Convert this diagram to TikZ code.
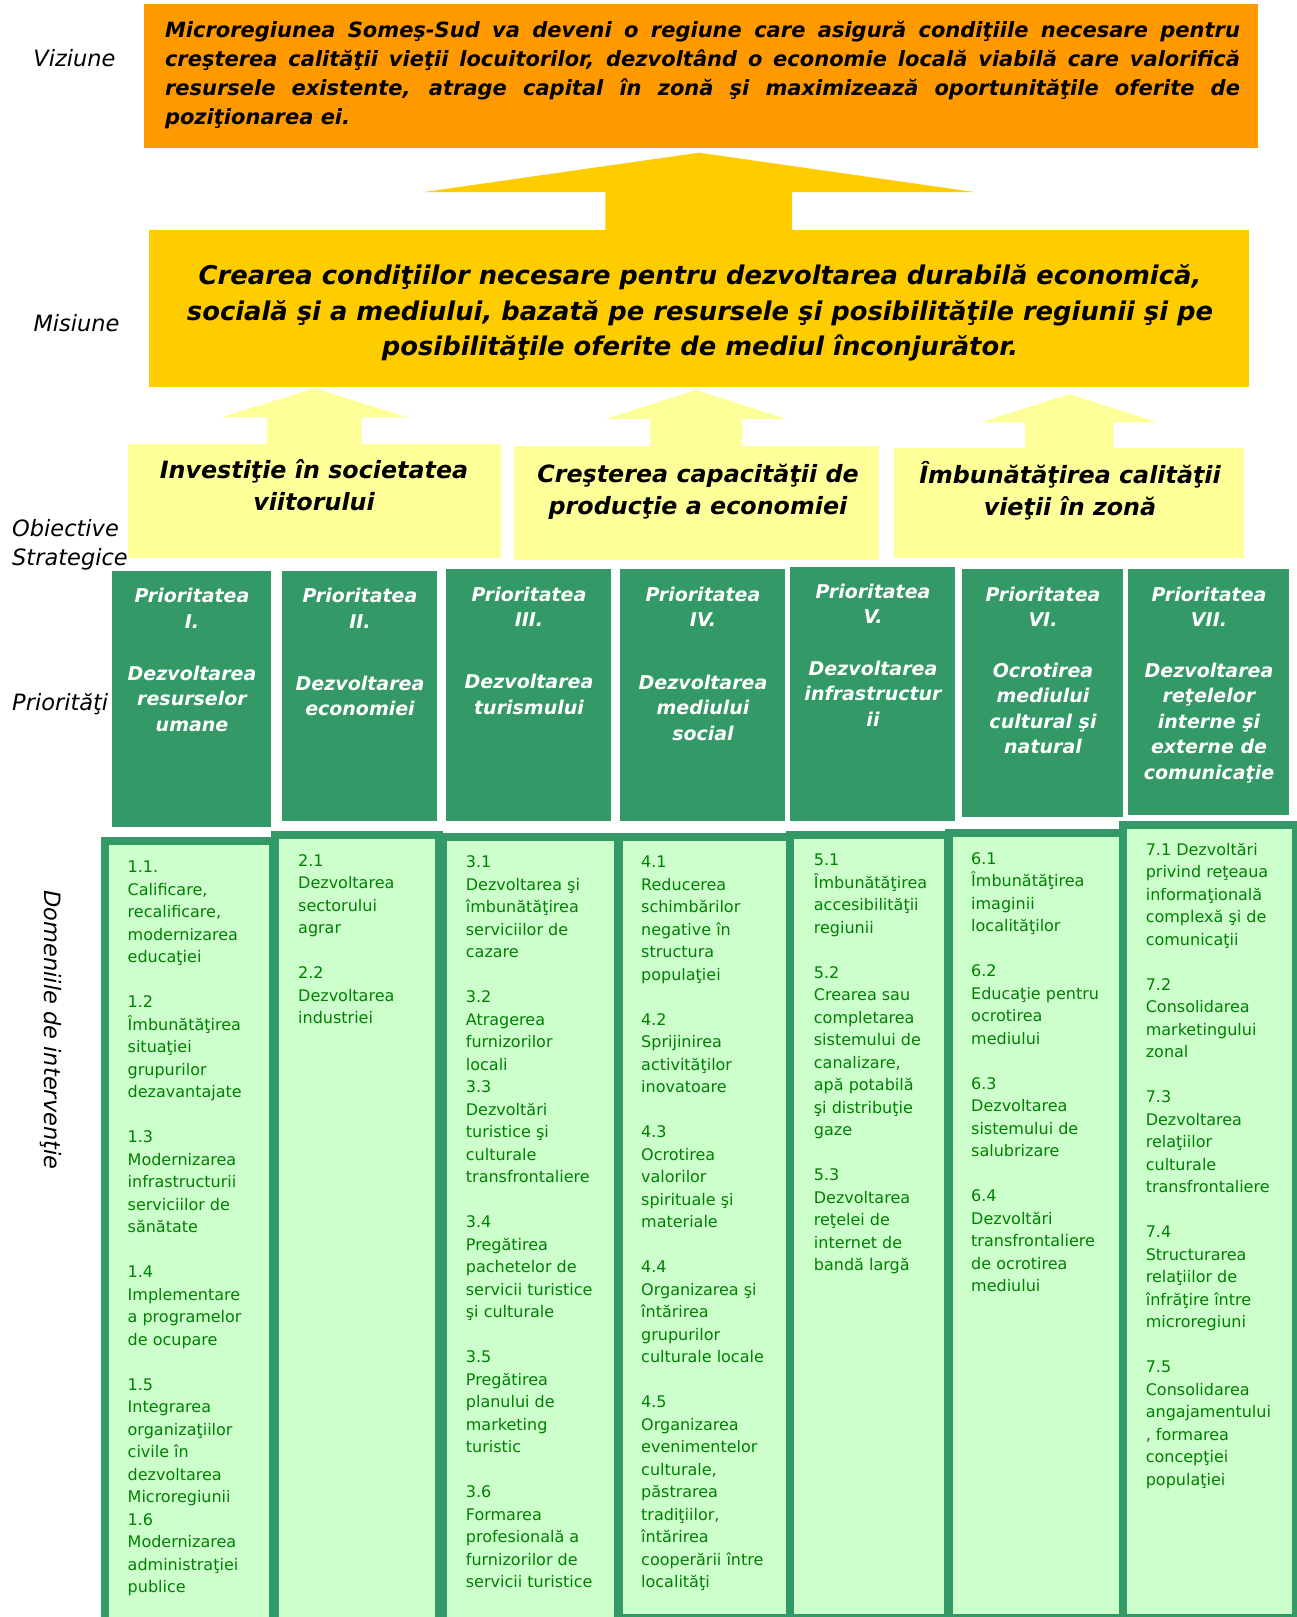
\documentclass[tikz,border=0pt]{standalone}
\usepackage{fontspec}
\setmainfont{DejaVu Sans}
\usetikzlibrary{shapes,arrows,fit,backgrounds}
\definecolor{visionorange}{HTML}{FF9900}
\definecolor{missiongold}{HTML}{FFCC00}
\definecolor{goalyellow}{HTML}{FFFF99}
\definecolor{prioritygreen}{HTML}{339966}
\definecolor{fieldfill}{HTML}{CCFFCC}
\definecolor{fieldtext}{HTML}{008000}

\begin{document}
\begin{tikzpicture}[
    x=1pt,y=-1pt,
	box/.style={rectangle, inner sep=0, outer sep=0},
	goal/.style={box, fill=goalyellow},
	prio/.style={box, fill=prioritygreen},
	field/.style={box, draw=prioritygreen, fill=fieldfill, line width=8pt},
	side/.style={font=\fontsize{22.5}{29}\selectfont\itshape, inner sep=0},
	goaltext/.style={font=\fontsize{23.8}{32}\selectfont\bfseries\itshape, align=center, inner sep=0},
	head/.style={font=\fontsize{19}{25.5}\selectfont\bfseries\itshape, text=white, align=center, inner sep=0},
	item/.style={anchor=north west, font=\fontsize{16}{22.5}\selectfont, text=fieldtext, align=left, inner sep=0}
]
\useasboundingbox (0,0) rectangle (1296,1617);

\node[box, fill=visionorange, minimum width=1114pt, minimum height=144.3pt] (vision) at (701,76.15) {};
\node[text width=1075pt, align=justify, font=\fontsize{21}{28.9}\selectfont\bfseries\itshape, inner sep=0] (visiontext) at (702.5,75.4) {Microregiunea Someş-Sud va deveni o regiune care asigură condiţiile necesare pentru\linebreak creşterea calităţii vieţii locuitorilor, dezvoltând o economie locală viabilă care valorifică\linebreak resursele existente, atrage capital în zonă şi maximizează oportunităţile oferite de\linebreak poziţionarea ei.};
\node[side] (viziune) at (74.5,58.1) {Viziune};

\fill[missiongold] (699,152.7) -- (974,192) -- (792,192) -- (792,231) -- (605.3,231) -- (605.3,192) -- (424,192) -- cycle;

\node[box, fill=missiongold, minimum width=1100pt, minimum height=156.7pt] (mission) at (699,308.35) {};
\node[align=center, font=\fontsize{25.8}{35.8}\selectfont\bfseries\itshape, inner sep=0] (missiontext) at (700,313) {Crearea condiţiilor necesare pentru dezvoltarea durabilă economică,\\socială şi a mediului, bazată pe resursele şi posibilităţile regiunii şi pe\\posibilităţile oferite de mediul înconjurător.};
\node[side] (misiune) at (76.5,323) {Misiune};

\fill[goalyellow] (314.5,388.3) -- (408,417.3) -- (361.7,417.3) -- (361.7,445) -- (267,445) -- (267,417.3) -- (220.7,417.3) -- cycle;
\fill[goalyellow] (696,390) -- (787,419) -- (742,419) -- (742,447) -- (650,447) -- (650,419) -- (605,419) -- cycle;
\fill[goalyellow] (1069.3,394) -- (1157.3,422.3) -- (1113.7,422.3) -- (1113.7,449) -- (1025,449) -- (1025,422.3) -- (981,422.3) -- cycle;

\node[goal, minimum width=372.7pt, minimum height=114pt] (goal1) at (314.35,501) {};
\node[goal, minimum width=365pt, minimum height=113.7pt] (goal2) at (696.5,503.15) {};
\node[goal, minimum width=350pt, minimum height=110pt] (goal3) at (1069,503) {};
\node[goaltext] (goal1text) at (314,485) {Investiţie în societatea\\viitorului};
\node[goaltext] (goal2text) at (698,491.3) {Creşterea capacităţii de\\producţie a economiei};
\node[goaltext] (goal3text) at (1070,490.5) {Îmbunătăţirea calităţii\\vieţii în zonă};
\node[side, anchor=west, align=left] (obiective) at (12,544.6) {Obiective\\Strategice};

\node[prio, minimum width=159.5pt, minimum height=256pt] (prio1) at (191.25,698.5) {};
\node[prio, minimum width=155.5pt, minimum height=250pt] (prio2) at (359.25,696) {};
\node[prio, minimum width=164.5pt, minimum height=252pt] (prio3) at (528.25,695) {};
\node[prio, minimum width=165pt, minimum height=252pt] (prio4) at (702,695) {};
\node[prio, minimum width=165pt, minimum height=254.5pt] (prio5) at (872.5,693.75) {};
\node[prio, minimum width=161.5pt, minimum height=248pt] (prio6) at (1042.25,693) {};
\node[prio, minimum width=161.5pt, minimum height=246pt] (prio7) at (1208.25,692) {};

\node[head] (prio1title) at (192,608.3) {Prioritatea\\I.};
\node[head] (prio2title) at (360,608.3) {Prioritatea\\II.};
\node[head] (prio3title) at (529,607) {Prioritatea\\III.};
\node[head] (prio4title) at (703,607) {Prioritatea\\IV.};
\node[head] (prio5title) at (873,604) {Prioritatea\\V.};
\node[head] (prio6title) at (1043,607) {Prioritatea\\VI.};
\node[head] (prio7title) at (1209,607) {Prioritatea\\VII.};

\node[head] (prio1text) at (192,698.5) {Dezvoltarea\\resurselor\\umane};
\node[head] (prio2text) at (360,696) {Dezvoltarea\\economiei};
\node[head] (prio3text) at (529,694.3) {Dezvoltarea\\turismului};
\node[head] (prio4text) at (703,707.5) {Dezvoltarea\\mediului\\social};
\node[head] (prio5text) at (873,693.5) {Dezvoltarea\\infrastructur\\ii};
\node[head] (prio6text) at (1043,708.5) {Ocrotirea\\mediului\\cultural şi\\natural};
\node[head] (prio7text) at (1209,723) {Dezvoltarea\\reţelelor\\interne şi\\externe de\\comunicaţie};
\node[side, anchor=west] (prioritati) at (12,703.7) {Priorităţi};

\node[field, minimum width=168pt, minimum height=795.5pt] (field1) at (188.5,1238.25) {};
\node[field, minimum width=164.5pt, minimum height=801pt] (field2) at (356.75,1235.5) {};
\node[field, minimum width=175.3pt, minimum height=798.7pt] (field3) at (530.35,1236.65) {};
\node[field, minimum width=171.5pt, minimum height=781pt] (field4) at (704.25,1227.5) {};
\node[field, minimum width=158pt, minimum height=783pt] (field5) at (869,1226.5) {};
\node[field, minimum width=174pt, minimum height=785pt] (field6) at (1035.5,1225.5) {};
\node[field, minimum width=173.5pt, minimum height=793pt] (field7) at (1209.25,1221.5) {};

\node[item] (field1text) at (127.5,860.8) {1.1.\\Calificare,\\recalificare,\\modernizarea\\educaţiei\\[22.5pt]1.2\\Îmbunătăţirea\\situaţiei\\grupurilor\\dezavantajate\\[22.5pt]1.3\\Modernizarea\\infrastructurii\\serviciilor de\\sănătate\\[22.5pt]1.4\\Implementare\\a programelor\\de ocupare\\[22.5pt]1.5\\Integrarea\\organizaţiilor\\civile în\\dezvoltarea\\Microregiunii\\1.6\\Modernizarea\\administraţiei\\publice};
\node[item] (field2text) at (298,854) {2.1\\Dezvoltarea\\sectorului\\agrar\\[22.5pt]2.2\\Dezvoltarea\\industriei};
\node[item] (field3text) at (465.7,855.8) {3.1\\Dezvoltarea şi\\îmbunătăţirea\\serviciilor de\\cazare\\[22.5pt]3.2\\Atragerea\\furnizorilor\\locali\\3.3\\Dezvoltări\\turistice şi\\culturale\\transfrontaliere\\[22.5pt]3.4\\Pregătirea\\pachetelor de\\servicii turistice\\şi culturale\\[22.5pt]3.5\\Pregătirea\\planului de\\marketing\\turistic\\[22.5pt]3.6\\Formarea\\profesională a\\furnizorilor de\\servicii turistice};
\node[item] (field4text) at (641,856) {4.1\\Reducerea\\schimbărilor\\negative în\\structura\\populaţiei\\[22.5pt]4.2\\Sprijinirea\\activităţilor\\inovatoare\\[22.5pt]4.3\\Ocrotirea\\valorilor\\spirituale şi\\materiale\\[22.5pt]4.4\\Organizarea şi\\întărirea\\grupurilor\\culturale locale\\[22.5pt]4.5\\Organizarea\\evenimentelor\\culturale,\\păstrarea\\tradiţiilor,\\întărirea\\cooperării între\\localităţi};
\node[item] (field5text) at (813.7,854) {5.1\\Îmbunătăţirea\\accesibilităţii\\regiunii\\[22.5pt]5.2\\Crearea sau\\completarea\\sistemului de\\canalizare,\\apă potabilă\\şi distribuţie\\gaze\\[22.5pt]5.3\\Dezvoltarea\\reţelei de\\internet de\\bandă largă};
\node[item] (field6text) at (971,852) {6.1\\Îmbunătăţirea\\imaginii\\localităţilor\\[22.5pt]6.2\\Educaţie pentru\\ocrotirea\\mediului\\[22.5pt]6.3\\Dezvoltarea\\sistemului de\\salubrizare\\[22.5pt]6.4\\Dezvoltări\\transfrontaliere\\de ocrotirea\\mediului};
\node[item] (field7text) at (1145.6,843) {7.1 Dezvoltări\\privind reţeaua\\informaţională\\complexă şi de\\comunicaţii\\[22.5pt]7.2\\Consolidarea\\marketingului\\zonal\\[22.5pt]7.3\\Dezvoltarea\\relaţiilor\\culturale\\transfrontaliere\\[22.5pt]7.4\\Structurarea\\relaţiilor de\\înfrăţire între\\microregiuni\\[22.5pt]7.5\\Consolidarea\\angajamentului\\, formarea\\concepţiei\\populaţiei};
\node[side, rotate=-90] (domenii) at (51,1030) {Domeniile de intervenţie};
\end{tikzpicture}
\end{document}
